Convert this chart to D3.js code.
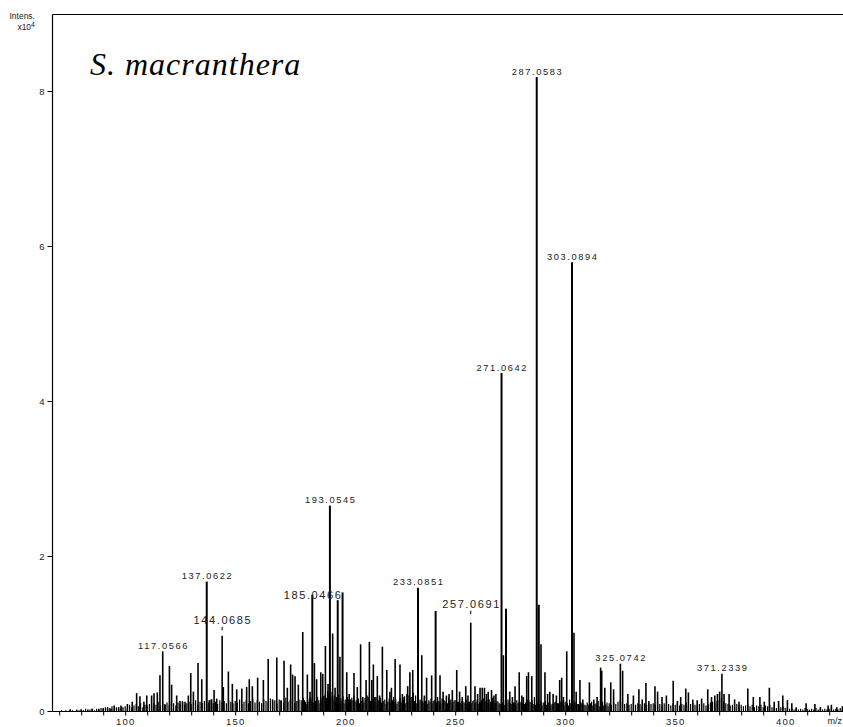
<!DOCTYPE html>
<html><head><meta charset="utf-8">
<script src="https://cdn.jsdelivr.net/npm/d3@7"></script>
<style>body{margin:0;background:#fff} svg{display:block}</style>
</head><body>
<script>
// ---- DATA (m/z, intensity x10^4) ----
const peaks = [
 [75,0.02],[78,0.01],[80,0.02],[83,0.02],[85,0.03],[88,0.03],[90,0.04],[92,0.05],[93.5,0.03],[95,0.07],[97,0.05],[98.3,0.06],
 [101.0,0.09],[103.2,0.12],[105.2,0.23],[106.7,0.19],[108.5,0.12],[109.8,0.20],[112.0,0.20],[113.1,0.23],[114.6,0.24],
 [115.8,0.46],[117.0566,0.77],[118.1,0.08],[120.1,0.58],[121.1,0.34],[123.4,0.20],[124.9,0.13],[126.1,0.12],[127.2,0.12],
 [128.7,0.20],[129.8,0.49],[131.0,0.25],[133.1,0.62],[134.8,0.41],[137.0622,1.67],[138.2,0.14],[139.3,0.15],[140.4,0.27],
 [141.6,0.16],[144.0685,0.97],[144.6,0.31],[146.9,0.51],[148.7,0.35],[150.7,0.28],[153.0,0.29],[155.2,0.31],[156.4,0.41],
 [157.8,0.32],[160.2,0.43],[162.8,0.40],[165.0,0.67],[167.0,0.15],[168.9,0.69],[170.8,0.14],[172.2,0.65],[173.7,0.30],
 [175.2,0.60],[176.1,0.47],[177.2,0.45],[178.7,0.34],[180.7,1.02],[182.8,0.47],[184.0,0.25],[185.0466,1.50],[186.0,0.62],
 [187.0,0.41],[188.9,0.50],[189.8,0.48],[191.0,0.84],[192.2,0.35],[193.0545,2.65],[194.3,1.00],[195.4,0.30],[196.6,1.43],
 [197.6,0.70],[198.8,1.53],[200.7,0.50],[201.8,0.22],[202.5,0.15],[204.0,0.49],[205.5,0.31],[207.0,0.86],[208.0,0.18],[209.5,0.40],
 [211.0,0.89],[212.1,0.40],[212.8,0.60],[213.5,0.18],[214.6,0.45],[215.6,0.20],[216.9,0.83],[218.9,0.53],[220.3,0.25],[221.0,0.30],[222.7,0.67],[224.9,0.60],
 [226.0,0.22],[226.8,0.18],[228.4,0.32],[229.4,0.50],[230.7,0.53],[233.0851,1.59],[234.8,0.72],[236.0,0.20],[237.0,0.43],[239.3,0.46],
 [241.1,1.29],[243.1,0.46],[244.5,0.25],[246.0,0.20],[247.2,0.22],[248.7,0.27],[250.7,0.53],[252.0,0.25],[253.2,0.18],[254.8,0.32],[255.8,0.20],
 [257.0691,1.14],[259.0,0.32],[260.2,0.22],[261.3,0.30],[262.3,0.30],[263.3,0.30],[264.2,0.22],[265.0,0.25],[266.5,0.27],[267.6,0.20],[268.5,0.22],[271.0642,4.36],
 [271.9,0.72],[273.1,1.32],[274.8,0.25],[276.0,0.18],[277.2,0.32],[279.1,0.50],[280.3,0.20],[281.0,0.18],[282.5,0.45],[283.3,0.50],[284.8,0.45],[287.0583,8.18],
 [288.0,1.37],[289.0,0.86],[290.8,0.50],[292.0,0.22],[293.0,0.25],[294.5,0.22],[296.0,0.20],[297.5,0.40],[298.4,0.43],[299.2,0.18],[300.7,0.77],[303.0894,5.79],
 [304.0,1.01],[305.0,0.25],[306.7,0.40],[308.0,0.15],[311.0,0.37],[313.0,0.15],[314.5,0.18],[316.1,0.56],[316.6,0.52],
 [318.0,0.30],[320.7,0.37],[322.0,0.28],[325.0742,0.61],[326.1,0.52],[328.5,0.22],[331.0,0.20],[333.5,0.28],[335.0,0.15],
 [336.7,0.36],[338.0,0.13],[340.8,0.32],[342.0,0.25],[344.0,0.18],[346.0,0.20],[349.1,0.39],[351.0,0.13],[352.5,0.18],
 [354.8,0.29],[356.0,0.24],[358.0,0.15],[360.0,0.14],[362.0,0.16],[364.8,0.28],[366.5,0.18],[368.0,0.20],[369.2,0.22],
 [370.2,0.25],[371.2339,0.48],[372.2,0.22],[374.5,0.22],[377.0,0.15],[379.0,0.12],[383.0,0.29],[385.5,0.18],[388.5,0.18],
 [390.5,0.12],[392.8,0.30],[395.0,0.12],[397.0,0.13],[398.9,0.20],[401.0,0.14],[403.0,0.10],[405.0,0.05],[409.5,0.10],
 [413.5,0.09],[416.0,0.05],[419.5,0.07],[421.0,0.08],[423.5,0.05],[426.0,0.06]
];
// low-level noise, one value per m/z unit starting at grassStart
const grassStart = 70;
const grass = [
 0,0.01,0,0.01,0,0.02,0.01,0,0.02,0.01,
 0.02,0.01,0.03,0.01,0.02,0.03,0.01,0.03,0.02,0.04,
 0.03,0.05,0.02,0.04,0.06,0.03,0.05,0.04,0.07,0.05,
 0.06,0.04,0.08,0.05,0.07,0.09,0.06,0.1,0.05,0.08,
 0.07,0.09,0.06,0.1,0.08,0.12,0.07,0.1,0.09,0.11,
 0.08,0.12,0.1,0.07,0.11,0.09,0.13,0.08,0.1,0.12,
 0.09,0.11,0.14,0.08,0.12,0.1,0.13,0.09,0.11,0.15,
 0.1,0.12,0.09,0.14,0.11,0.13,0.1,0.15,0.12,0.1,
 0.13,0.11,0.15,0.09,0.12,0.14,0.1,0.13,0.16,0.11,
 0.14,0.12,0.1,0.15,0.13,0.11,0.16,0.12,0.14,0.1,
 0.15,0.13,0.11,0.17,0.12,0.14,0.16,0.1,0.13,0.15,
 0.14,0.17,0.12,0.15,0.18,0.13,0.16,0.2,0.14,0.17,
 0.19,0.22,0.26,0.3,0.25,0.2,0.18,0.21,0.16,0.19,
 0.15,0.18,0.13,0.17,0.2,0.14,0.16,0.19,0.13,0.17,
 0.2,0.24,0.22,0.16,0.18,0.14,0.17,0.13,0.15,0.12,
 0.16,0.13,0.18,0.15,0.12,0.17,0.14,0.19,0.22,0.2,
 0.18,0.24,0.2,0.16,0.15,0.13,0.17,0.12,0.14,0.16,
 0.13,0.15,0.18,0.12,0.16,0.14,0.13,0.17,0.15,0.12,
 0.14,0.12,0.16,0.13,0.11,0.15,0.12,0.14,0.13,0.1,
 0.15,0.12,0.14,0.16,0.13,0.15,0.12,0.17,0.11,0.13,
 0.1,0.16,0.14,0.12,0.15,0.1,0.13,0.11,0.14,0.12,
 0.1,0.13,0.11,0.15,0.12,0.14,0.18,0.2,0.16,0.13,
 0.11,0.13,0.1,0.12,0.09,0.11,0.13,0.1,0.12,0.14,
 0.12,0.1,0.15,0.18,0.13,0.11,0.09,0.12,0.1,0.08,
 0.11,0.09,0.12,0.08,0.1,0.13,0.15,0.12,0.09,0.11,
 0.1,0.08,0.11,0.09,0.12,0.14,0.11,0.09,0.1,0.08,
 0.09,0.11,0.08,0.1,0.09,0.07,0.1,0.08,0.11,0.09,
 0.1,0.08,0.11,0.09,0.07,0.1,0.08,0.09,0.07,0.1,
 0.08,0.1,0.07,0.09,0.08,0.11,0.07,0.09,0.1,0.08,
 0.07,0.09,0.08,0.1,0.07,0.09,0.11,0.12,0.1,0.13,
 0.14,0.16,0.12,0.1,0.09,0.07,0.08,0.06,0.09,0.07,
 0.08,0.06,0.07,0.09,0.06,0.08,0.05,0.07,0.06,0.08,
 0.05,0.07,0.06,0.08,0.05,0.06,0.04,0.07,0.05,0.06,
 0.04,0.05,0.03,0.04,0.02,0.03,0.02,0.03,0.02,0.04,
 0.03,0.02,0.03,0.02,0.04,0.02,0.03,0.02,0.03,0.02,
 0.03,0.04,0.02,0.03,0.02,0.04,0.03,0.02
];
// extra noise between the unit positions (m/z = halfStart + i + 0.5) in the crowded middle
const halfStart = 180;
const grassHalf = [
 0.1,0.14,0.09,0.12,0.16,0.11,0.13,0.18,0.1,0.15,
 0.2,0.17,0.22,0.19,0.14,0.12,0.16,0.11,0.13,0.1,
 0.12,0.15,0.1,0.14,0.12,0.16,0.1,0.13,0.11,0.15,
 0.18,0.13,0.16,0.12,0.1,0.14,0.11,0.13,0.09,0.12,
 0.1,0.14,0.12,0.09,0.13,0.11,0.15,0.1,0.12,0.17,
 0.15,0.13,0.1,0.12,0.14,0.11,0.13,0.09,0.12,0.1,
 0.14,0.11,0.13,0.1,0.15,0.12,0.1,0.13,0.11,0.14,
 0.09,0.12,0.1,0.13,0.11,0.09,0.12,0.1,0.14,0.11,
 0.09,0.12,0.1,0.13,0.11,0.15,0.12,0.14,0.1,0.12,
 0.09,0.11,0.08,0.1,0.12,0.09,0.11,0.08,0.1,0.12,
 0.1,0.09,0.12,0.14,0.11,0.09,0.08,0.1,0.09,0.07,
 0.1,0.08,0.11,0.07,0.09,0.12,0.1,0.08,0.09,0.07,
 0.09,0.07,0.1,0.08,0.11,0.09,0.07,0.1,0.08,0.07,
 0.08,0.1,0.07,0.09,0.08,0.06,0.09,0.07,0.08,0.06
];
const peakLabels = ["117.0566","137.0622","144.0685","185.0466","193.0545","233.0851","257.0691","271.0642","287.0583","303.0894","325.0742","371.2339"];
const yTickValues = [0,2,4,6,8];
const xLabelValues = [100,150,200,250,300,350,400];
const xMinorTicks = d3.range(70, 430, 10);
const titleText = "S. macranthera";

// ---- STYLE / LAYOUT ----
const W = 843, H = 727;
const large = {"144.0685": {dy:-12, tick:true}, "185.0466": {dy:4, tick:false}, "257.0691": {dy:-15, tick:true}};
const x = d3.scaleLinear().domain([100, 400]).range([125.2, 785.2]);
const y = d3.scaleLinear().domain([0, 8]).range([711, 91]);
const leftX = 52.5, topY = 14.5, bottomY = y(0);

const svg = d3.select("body").append("svg").attr("width", W).attr("height", H);
const font = "'Liberation Sans', Arial, Helvetica, sans-serif";

// noise
svg.append("g").selectAll("line").data(grass).join("line")
  .attr("x1", (d,i) => x(grassStart + i)).attr("x2", (d,i) => x(grassStart + i))
  .attr("y1", bottomY).attr("y2", d => y(d))
  .attr("stroke", "#000").attr("stroke-width", 1.2);
svg.append("g").selectAll("line").data(grassHalf).join("line")
  .attr("x1", (d,i) => x(halfStart + i + 0.5)).attr("x2", (d,i) => x(halfStart + i + 0.5))
  .attr("y1", bottomY).attr("y2", d => y(d))
  .attr("stroke", "#000").attr("stroke-width", 1);

// peaks
svg.append("g").selectAll("line").data(peaks).join("line")
  .attr("x1", d => x(d[0])).attr("x2", d => x(d[0]))
  .attr("y1", bottomY).attr("y2", d => y(d[1]))
  .attr("stroke", "#000").attr("stroke-width", d => d[1] > 1.2 ? 2 : 1.6);

// axes frame
svg.append("line").attr("x1", leftX).attr("x2", W).attr("y1", topY).attr("y2", topY).attr("stroke", "#000").attr("stroke-width", 1.2);
svg.append("line").attr("x1", leftX).attr("x2", leftX).attr("y1", topY).attr("y2", bottomY + 0.5).attr("stroke", "#000").attr("stroke-width", 1.2);
svg.append("line").attr("x1", leftX).attr("x2", W).attr("y1", bottomY + 0.5).attr("y2", bottomY + 0.5).attr("stroke", "#000").attr("stroke-width", 1.2);

// y axis
const ya = svg.append("g").attr("transform", `translate(${leftX},0)`)
  .call(d3.axisLeft(y).tickValues(yTickValues).tickSize(5).tickPadding(3).tickFormat(d3.format("d")));
ya.select(".domain").remove();
ya.selectAll("text").attr("font-family", font).attr("font-size", 9.5).attr("fill", "#222");

// x axis
const xa = svg.append("g").attr("transform", `translate(0,${bottomY + 0.5})`)
  .call(d3.axisBottom(x).tickValues(xMinorTicks).tickSize(4).tickPadding(3)
    .tickFormat(d => xLabelValues.includes(d) ? d : ""));
xa.select(".domain").remove();
xa.selectAll("text").attr("font-family", font).attr("font-size", 9.5).attr("fill", "#222").attr("letter-spacing", 1.2);

svg.append("text").attr("x", 842).attr("y", 724).attr("text-anchor", "end").attr("font-family", font).attr("font-size", 9)
  .attr("fill", "#222").text("m/z");

// y label
svg.append("text").attr("x", 35).attr("y", 18.5).attr("text-anchor", "end").attr("font-family", font)
  .attr("font-size", 8.5).attr("fill", "#222").text("Intens.");
const yl = svg.append("text").attr("x", 35).attr("y", 30).attr("text-anchor", "end").attr("font-family", font)
  .attr("font-size", 8.5).attr("fill", "#222");
yl.append("tspan").text("x10");
yl.append("tspan").attr("dy", -3.5).attr("font-size", 7).text("4");

// title
svg.append("text").attr("x", 90).attr("y", 75).attr("font-family", "'Liberation Serif', 'Times New Roman', serif")
  .attr("font-style", "italic").attr("font-size", 32).attr("letter-spacing", 1).attr("fill", "#000").text(titleText);

// peak labels
const labelData = peakLabels.map(t => {
  const p = peaks.find(d => Math.abs(d[0] - (+t)) < 1e-6);
  return {t, mz: p[0], v: p[1]};
});
const lg = svg.append("g");
labelData.forEach(d => {
  const cfg = large[d.t];
  const px = x(d.mz), py = y(d.v);
  const base = cfg ? py + cfg.dy : py - 2.5;
  lg.append("text").attr("x", px + 0.8).attr("y", base).attr("text-anchor", "middle")
    .attr("font-family", font).attr("font-size", cfg ? 11 : 9.3)
    .attr("letter-spacing", 1.6).attr("fill", "#222").text(d.t);
  if (cfg && cfg.tick) {
    lg.append("line").attr("x1", px).attr("x2", px).attr("y1", base + 3).attr("y2", base + 6.5)
      .attr("stroke", "#000").attr("stroke-width", 1);
  }
});
</script>
</body></html>
